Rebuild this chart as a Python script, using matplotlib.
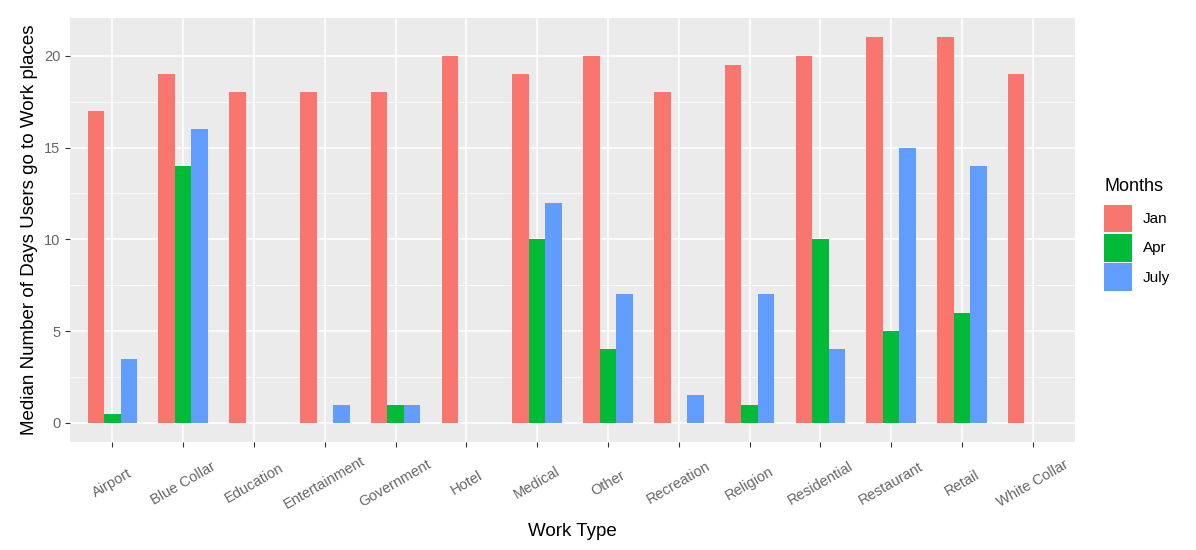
import numpy as np
import matplotlib.pyplot as plt
import matplotlib.transforms as mtransforms
from matplotlib.patches import Patch

plt.rcParams['font.family'] = ['Liberation Sans', 'DejaVu Sans']

# valores
work_types = ["Airport", "Blue Collar", "Education", "Entertainment", "Government", "Hotel",
              "Medical", "Other", "Recreation", "Religion", "Residential", "Restaurant",
              "Retail", "White Collar"]
jan = [17, 19, 18, 18, 18, 20, 19, 20, 18, 19.5, 20, 21, 21, 19]
apr = [0.5, 14, 0, 0, 1, 0, 10, 4, 0, 1, 10, 5, 6, 0]
july = [3.5, 16, 0, 1, 1, 0, 12, 7, 1.5, 7, 4, 15, 14, 0]

months = ["Jan", "Apr", "July"]
colors = ["#F8766D", "#00BA38", "#619CFF"]

fig = plt.figure(figsize=(11.96, 5.5), dpi=100)
ax = fig.add_axes([0.0585, 0.196, 0.8405, 0.771])
ax.set_facecolor("#EBEBEB")

x = np.arange(1, len(work_types) + 1)
w = 0.7 / 3
for i, (vals, c) in enumerate(zip([jan, apr, july], colors)):
    ax.bar(x + (i - 1) * w, vals, width=w, color=c, zorder=3)

ax.set_xlim(0.4, 14.6)
ax.set_ylim(-1.05, 22.05)
ax.set_yticks([0, 5, 10, 15, 20])
ax.set_yticks([2.5, 7.5, 12.5, 17.5], minor=True)
ax.set_xticks(x)
ax.set_xticklabels(work_types, rotation=30, ha="center", va="center")

# las etiquetas del eje x van un poco a la derecha
offset = mtransforms.ScaledTranslation(5 / 100, 0, fig.dpi_scale_trans)
for lab in ax.get_xticklabels():
    lab.set_transform(lab.get_transform() + offset)

ax.grid(which="major", color="white", linewidth=1.1, zorder=0)
ax.grid(which="minor", axis="y", color="white", linewidth=0.55, zorder=0)
for s in ax.spines.values():
    s.set_visible(False)
ax.tick_params(which="major", colors="#333333", labelcolor="#666666", labelsize=10.5, length=3.5)
ax.tick_params(which="minor", length=0)
ax.tick_params(axis="x", pad=26)

ax.set_xlabel("Work Type", fontsize=13.5, color="black", labelpad=8)
ax.set_ylabel("Median Number of Days Users go to Work places", fontsize=13.5, color="black",
              labelpad=4)

handles = [Patch(facecolor=c, label=m) for m, c in zip(months, colors)]
leg = ax.legend(handles=handles, title="Months", loc="center left", bbox_to_anchor=(1.015, 0.49),
                frameon=False, fontsize=11, title_fontsize=13, handlelength=1.85, handleheight=2.4,
                labelspacing=0.12, handletextpad=0.7)
leg._legend_box.align = "left"
leg._legend_box.sep = 7

fig.savefig("out.png", dpi=100)
